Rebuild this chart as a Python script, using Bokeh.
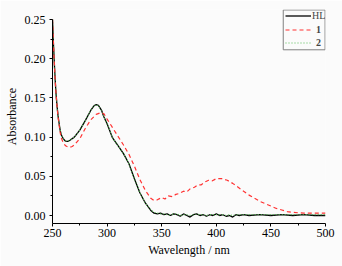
from bokeh.plotting import figure
from bokeh.models import (Legend, LegendItem, FixedTicker,
                          NumeralTickFormatter, Range1d)
from bokeh.embed import file_html
from bokeh.resources import INLINE

# ---- data ----
wl_hl = [250, 251, 252, 253, 254, 255, 256, 257, 258, 260, 262, 264, 266, 270,
         275, 280, 285, 288, 290, 292, 295, 297, 300, 305, 310, 315, 320, 325,
         330, 335, 340, 343, 346, 349, 352, 355, 358, 361, 364, 367, 370, 373,
         376, 379, 382, 385, 388, 391, 394, 397, 400, 403, 406, 409, 412, 415,
         418, 421, 425, 430, 440, 450, 460, 470, 480, 490, 500]
a_hl = [0.250, 0.215, 0.185, 0.160, 0.142, 0.128, 0.118, 0.109, 0.103, 0.0975,
        0.0948, 0.0945, 0.096, 0.100, 0.109, 0.121, 0.134, 0.140, 0.1415,
        0.1405, 0.134, 0.126, 0.117, 0.099, 0.089, 0.079, 0.066, 0.047, 0.029,
        0.016, 0.0065, 0.003, 0.002, 0.003, 0.001, 0.002, 0.000, 0.002, 0.001,
        -0.001, 0.002, 0.000, -0.002, 0.001, 0.002, 0.000, 0.001, -0.001,
        0.001, 0.000, 0.002, 0.000, 0.001, -0.001, 0.000, -0.002, 0.001,
        0.000, 0.001, 0.000, 0.001, 0.000, 0.001, 0.000, 0.001, 0.000, 0.000]

wl_2 = wl_hl
a_2 = [0.250, 0.214, 0.184, 0.160, 0.141, 0.128, 0.118, 0.109, 0.103, 0.0978,
       0.0952, 0.0948, 0.0962, 0.100, 0.109, 0.121, 0.134, 0.140, 0.1412,
       0.1402, 0.134, 0.126, 0.117, 0.099, 0.089, 0.079, 0.066, 0.047, 0.029,
       0.016, 0.007, 0.004, 0.003, 0.002, 0.002, 0.001, 0.001, 0.002, 0.002,
       0.000, 0.001, 0.001, 0.000, 0.001, 0.002, 0.001, 0.001, 0.000,
       0.001, 0.001, 0.001, 0.001, 0.001, 0.000, 0.001, 0.000, 0.001,
       0.001, 0.001, 0.001, 0.001, 0.001, 0.001, 0.001, 0.001, 0.001, 0.001]

wl_1 = [250, 251, 252, 253, 254, 255, 256, 257, 258, 260, 262, 264, 266, 268,
        270, 275, 280, 285, 290, 294, 297, 300, 305, 310, 315, 320, 325, 330,
        335, 340, 343, 346, 350, 353, 356, 360, 363, 366, 370, 373, 376, 380,
        383, 386, 390, 393, 396, 400, 405, 410, 415, 420, 425, 430, 435, 440,
        445, 450, 455, 460, 465, 470, 480, 490, 500]
a_1 = [0.250, 0.215, 0.185, 0.160, 0.142, 0.127, 0.116, 0.106, 0.099, 0.092,
       0.089, 0.0875, 0.087, 0.088, 0.090, 0.098, 0.111, 0.122, 0.129, 0.131,
       0.130, 0.123, 0.112, 0.101, 0.090, 0.078, 0.063, 0.046, 0.032, 0.022,
       0.019, 0.020, 0.023, 0.021, 0.025, 0.024, 0.027, 0.028, 0.031, 0.030,
       0.034, 0.036, 0.039, 0.039, 0.043, 0.045, 0.044, 0.047, 0.047, 0.045,
       0.041, 0.036, 0.031, 0.026, 0.022, 0.018, 0.015, 0.012, 0.009, 0.007,
       0.005, 0.004, 0.003, 0.003, 0.003]

x_ticks = [250, 300, 350, 400, 450, 500]
x_minor = [275, 325, 375, 425, 475]
y_ticks = [0.00, 0.05, 0.10, 0.15, 0.20, 0.25]
y_minor = [0.025, 0.075, 0.125, 0.175, 0.225]

FONT = "Liberation Serif"
BG = "#fbfbfb"
y_start = -0.0102
y_end = 0.2628

p = figure(width=342, height=266, output_backend="svg", toolbar_location=None,
           x_range=Range1d(250, 500), y_range=Range1d(y_start, y_end),
           min_border_left=52, min_border_right=17, min_border_top=9,
           min_border_bottom=43, background_fill_color=BG,
           border_fill_color=BG, outline_line_color=None)
p.grid.visible = False

r_hl = p.line(wl_hl, a_hl, color="black", line_width=1.3)
r_2 = p.line(wl_2, a_2, color="#55bb55", line_width=1.2, line_dash="1 2")
r_1 = p.line(wl_1, a_1, color="#ff3333", line_width=1.2, line_dash="4 3")

for ax in (p.xaxis[0], p.yaxis[0]):
    ax.major_tick_in = 0
    ax.major_tick_out = 3
    ax.minor_tick_in = 0
    ax.minor_tick_out = 2
    ax.axis_line_color = "black"
    ax.major_label_text_font = FONT
    ax.major_label_text_font_size = "12px"
    ax.major_label_text_color = "black"
    ax.axis_label_text_font = FONT
    ax.axis_label_text_font_size = "12px"
    ax.axis_label_text_font_style = "normal"
    ax.axis_label_text_color = "black"

p.xaxis.ticker = FixedTicker(ticks=x_ticks, minor_ticks=x_minor)
p.yaxis.ticker = FixedTicker(ticks=y_ticks, minor_ticks=y_minor)
p.yaxis.formatter = NumeralTickFormatter(format="0.00")
p.yaxis.bounds = (y_start, 0.25)
p.xaxis.axis_label = "Wavelength / nm"
p.yaxis.axis_label = "Absorbance"
p.xaxis.major_label_standoff = 2
p.xaxis.axis_label_standoff = 3
p.yaxis.major_label_standoff = 4
p.yaxis.axis_label_standoff = 3

# legend frame (decoration)
p.quad(left=[461.3], right=[499.6], bottom=[0.2114], top=[0.2622],
       fill_alpha=0, line_color="#808080", line_width=1)

common = dict(padding=0, margin=0, spacing=0, glyph_width=26, glyph_height=13,
              label_height=13, label_text_font=FONT,
              label_text_font_size="10px", border_line_alpha=0,
              background_fill_alpha=0)
legA = Legend(items=[LegendItem(label="HL", renderers=[r_hl])],
              location=(233, 201), label_standoff=1, **common)
legB = Legend(items=[LegendItem(label="1", renderers=[r_1]),
                     LegendItem(label="2", renderers=[r_2])],
              location=(233, 174), label_standoff=5,
              label_text_font_style="bold", **common)
p.add_layout(legA)
p.add_layout(legB)

open("out.html", "w").write(file_html(p, INLINE))
